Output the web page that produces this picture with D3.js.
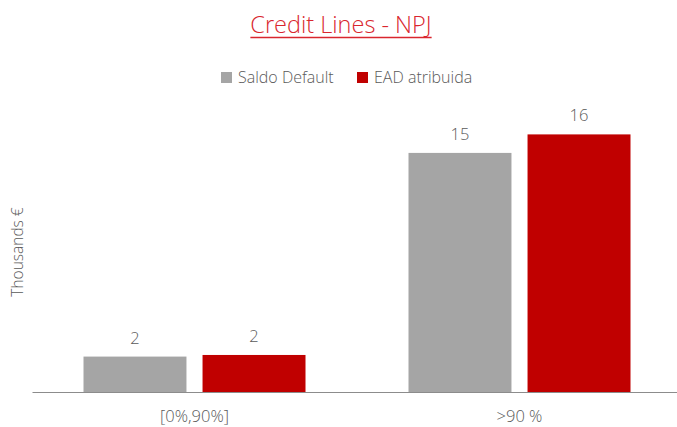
<!DOCTYPE html>
<html>
<head>
<meta charset="utf-8">
<script src="https://cdn.jsdelivr.net/npm/d3@7"></script>
<style>
  html, body { margin: 0; padding: 0; background: #fff; }
  svg { display: block; font-family: "Open Sans", Lato, sans-serif; }
</style>
</head>
<body>
<svg id="chart" width="677" height="427"></svg>
<script>
const title = "Credit Lines - NPJ";
const yLabel = "Thousands €";
const categories = ["[0%,90%]", ">90 %"];
const seriesNames = ["Saldo Default", "EAD atribuida"];
const saldoDefault = [2.2, 14.85];
const eadAtribuida = [2.3, 16.0];
const valueLabels = [["2", "15"], ["2", "16"]];
const colors = ["#a5a5a5", "#c00000"];

const svg = d3.select("#chart");
const W = 677, H = 427;
const baseY = 392;

const x = d3.scaleBand().domain(categories).range([32, 682]).paddingInner(0).paddingOuter(0);
const groupW = 222;
const xs = d3.scaleBand().domain(seriesNames).range([0, groupW]).paddingInner(0.135);
const y = d3.scaleLinear().domain([0, 18]).range([baseY, baseY - 18 * 16.1]);

const series = [saldoDefault, eadAtribuida];
const textCol = "#5a5a5a";

// Title
const t = svg.append("text")
  .attr("x", 341).attr("y", 33)
  .attr("text-anchor", "middle")
  .attr("font-size", 23.5).attr("font-weight", 300)
  .attr("fill", "#d9262e")
  .text(title);
const tb = t.node().getBBox();
svg.append("line")
  .attr("x1", tb.x).attr("x2", tb.x + tb.width)
  .attr("y1", 37.5).attr("y2", 37.5)
  .attr("stroke", "#d9262e").attr("stroke-width", 1.5);

// Legend
const legend = svg.append("g");
const legX = [221, 357];
seriesNames.forEach((n, i) => {
  legend.append("rect").attr("x", legX[i]).attr("y", 72).attr("width", 11).attr("height", 11).attr("fill", colors[i]);
  legend.append("text").attr("x", legX[i] + 17).attr("y", 83)
    .attr("font-size", 16).attr("font-weight", 300).attr("fill", textCol).text(n);
});

// Bars
const groups = svg.append("g").selectAll("g").data(categories).join("g")
  .attr("transform", d => `translate(${x(d) + (x.bandwidth() - groupW) / 2},0)`);

series.forEach((vals, si) => {
  groups.append("rect")
    .attr("x", xs(seriesNames[si]))
    .attr("y", (d, ci) => y(vals[ci]))
    .attr("width", xs.bandwidth())
    .attr("height", (d, ci) => y(0) - y(vals[ci]))
    .attr("fill", colors[si]);
  groups.append("text")
    .attr("x", xs(seriesNames[si]) + xs.bandwidth() / 2)
    .attr("y", (d, ci) => y(vals[ci]) - 13)
    .attr("text-anchor", "middle")
    .attr("font-size", 16.5).attr("font-weight", 300).attr("fill", textCol)
    .text((d, ci) => valueLabels[si][ci]);
});

// X axis
const xAxis = svg.append("g").attr("transform", `translate(0,${baseY})`)
  .call(d3.axisBottom(x).tickSize(0).tickPadding(18));
xAxis.select(".domain").attr("stroke", "#8c8c8c").attr("stroke-width", 1.2);
xAxis.selectAll("text").attr("font-size", 16.5).attr("font-weight", 300).attr("fill", textCol)
  .attr("font-family", "'Open Sans', Lato, sans-serif");

// Y label
svg.append("text")
  .attr("transform", "translate(23,252) rotate(-90)")
  .attr("text-anchor", "middle")
  .attr("font-size", 15.5).attr("font-weight", 300).attr("fill", textCol)
  .text(yLabel);
</script>
</body>
</html>
